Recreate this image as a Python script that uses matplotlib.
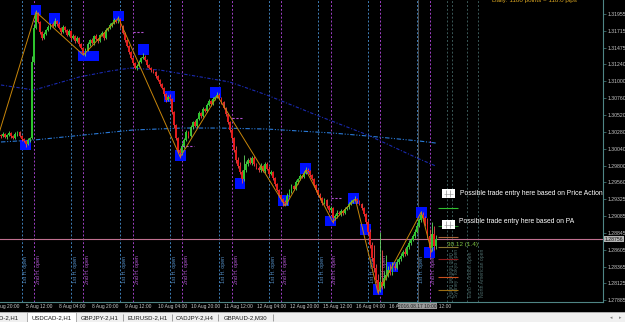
import matplotlib
matplotlib.use("Agg")
import matplotlib.pyplot as plt
from matplotlib.patches import Rectangle
from matplotlib.transforms import blended_transform_factory

plt.rcParams['font.family'] = ['Liberation Sans', 'DejaVu Sans']

# ---------------- data (USDCAD H1) ----------------
first_open = 1.30230
closes = [
    1.30219, 1.30247, 1.30205, 1.30233, 1.30261, 1.30219, 1.30190, 1.30247, 1.30276, 1.30219,
    1.30176, 1.30148, 1.30105, 1.30162, 1.30190, 1.31270, 1.31752, 1.31951, 1.31838, 1.31696,
    1.31610, 1.31667, 1.31724, 1.31767, 1.31809, 1.31781, 1.31852, 1.31809, 1.31752, 1.31696,
    1.31767, 1.31724, 1.31653, 1.31710, 1.31610, 1.31639, 1.31568, 1.31610, 1.31525, 1.31468,
    1.31397, 1.31440, 1.31525, 1.31582, 1.31539, 1.31639, 1.31596, 1.31568, 1.31653, 1.31681,
    1.31610, 1.31724, 1.31752, 1.31795, 1.31823, 1.31866, 1.31838, 1.31880, 1.31781, 1.31681,
    1.31582, 1.31497, 1.31412, 1.31326, 1.31255, 1.31184, 1.31213, 1.31270, 1.31326, 1.31341,
    1.31298, 1.31227, 1.31184, 1.31156, 1.31128, 1.31071, 1.31014, 1.30957, 1.30900, 1.30815,
    1.30730, 1.30773, 1.30744, 1.30560, 1.30375, 1.30190, 1.30020, 1.29977, 1.30077, 1.30162,
    1.30276, 1.30219, 1.30347, 1.30418, 1.30361, 1.30460, 1.30545, 1.30503, 1.30602, 1.30574,
    1.30659, 1.30716, 1.30673, 1.30744, 1.30773, 1.30801, 1.30758, 1.30702, 1.30616, 1.30531,
    1.30418, 1.30304, 1.30190, 1.30020, 1.29878, 1.29793, 1.29708, 1.29608, 1.29736, 1.29821,
    1.29878, 1.29835, 1.29906, 1.29821, 1.29764, 1.29736, 1.29793, 1.29722, 1.29821, 1.29750,
    1.29679, 1.29708, 1.29622, 1.29537, 1.29452, 1.29381, 1.29324, 1.29282, 1.29267, 1.29367,
    1.29438, 1.29509, 1.29466, 1.29566, 1.29608, 1.29651, 1.29637, 1.29693, 1.29736, 1.29722,
    1.29665, 1.29608, 1.29523, 1.29452, 1.29381, 1.29338, 1.29267, 1.29310, 1.29225, 1.29168,
    1.29196, 1.29054, 1.29083, 1.29125, 1.29111, 1.29154, 1.29125, 1.29182, 1.29211, 1.29253,
    1.29282, 1.29310, 1.29324, 1.29296, 1.29253, 1.29196, 1.29111, 1.28998, 1.28856, 1.28671,
    1.28486, 1.28344, 1.28174, 1.28032, 1.28146, 1.28089, 1.28202, 1.28245, 1.28316, 1.28273,
    1.28373, 1.28344, 1.28430, 1.28472, 1.28515, 1.28572, 1.28543, 1.28643, 1.28699, 1.28742,
    1.28799, 1.28856, 1.28941, 1.29026, 1.29097, 1.29054, 1.28969, 1.28799, 1.28628, 1.28827,
    1.28657, 1.28756,
]
# upper / lower wick length beyond the body, in pips
upper_pips = [
    2, 3, 1, 2, 3, 2, 1, 3, 2, 2,
    1, 2, 1, 3, 2, 8, 5, 6, 3, 2,
    2, 3, 2, 3, 2, 3, 4, 2, 3, 2,
    3, 2, 2, 3, 2, 3, 2, 3, 2, 2,
    1, 3, 3, 2, 3, 2, 3, 2, 2, 3,
    2, 3, 2, 3, 2, 3, 2, 4, 2, 2,
    2, 1, 2, 2, 1, 2, 3, 3, 2, 6,
    3, 2, 2, 1, 2, 1, 2, 2, 1, 2,
    2, 3, 4, 1, 2, 1, 2, 3, 4, 3,
    3, 2, 3, 2, 3, 2, 3, 2, 3, 2,
    3, 3, 2, 3, 2, 4, 3, 2, 2, 1,
    2, 2, 3, 2, 5, 4, 6, 3, 21, 4,
    3, 4, 3, 3, 2, 3, 4, 2, 3, 3,
    5, 3, 2, 2, 1, 2, 2, 1, 3, 4,
    3, 3, 2, 3, 2, 3, 2, 3, 4, 3,
    2, 2, 1, 2, 2, 3, 2, 3, 2, 2,
    3, 2, 3, 4, 3, 3, 2, 3, 2, 3,
    3, 2, 4, 2, 2, 2, 1, 2, 3, 4,
    5, 18, 6, 8, 71, 45, 10, 28, 6, 8,
    5, 4, 4, 3, 4, 3, 5, 3, 4, 3,
    3, 4, 3, 3, 6, 4, 3, 8, 10, 17,
    12, 6,
]
lower_pips = [
    3, 2, 2, 3, 2, 3, 2, 2, 3, 2,
    3, 2, 4, 2, 3, 2, 2, 2, 2, 3,
    3, 2, 2, 2, 3, 2, 2, 3, 2, 3,
    2, 3, 2, 2, 3, 2, 3, 2, 3, 2,
    3, 4, 2, 3, 2, 3, 2, 3, 2, 2,
    3, 2, 2, 2, 3, 2, 2, 2, 3, 2,
    3, 2, 3, 2, 3, 2, 3, 2, 2, 2,
    2, 3, 2, 3, 2, 3, 2, 3, 2, 3,
    3, 2, 3, 3, 4, 3, 4, 7, 3, 3,
    2, 3, 2, 3, 2, 3, 2, 3, 2, 2,
    2, 2, 3, 2, 2, 2, 2, 3, 2, 3,
    3, 3, 4, 3, 4, 3, 3, 6, 3, 3,
    3, 2, 3, 3, 2, 3, 3, 2, 3, 2,
    3, 2, 3, 3, 2, 3, 3, 6, 3, 3,
    2, 3, 2, 2, 3, 2, 2, 2, 2, 2,
    3, 2, 3, 3, 2, 3, 3, 2, 3, 3,
    3, 7, 3, 3, 2, 3, 3, 2, 2, 3,
    2, 2, 2, 3, 2, 3, 3, 3, 4, 4,
    4, 5, 4, 6, 3, 4, 3, 3, 3, 3,
    3, 3, 2, 3, 3, 2, 3, 2, 3, 3,
    2, 3, 2, 2, 3, 2, 3, 3, 13, 4,
    5, 4,
]
bid_price = 1.28756

# moving averages (sampled at bars)
ma_slow_idx = [0, 16, 38, 53, 63, 77, 97, 111, 129, 153, 178, 202, 211]
ma_slow = [1.30943, 1.30872, 1.31057, 1.31142, 1.31184, 1.31156, 1.31057, 1.30986,
           1.30801, 1.30517, 1.30233, 1.29906, 1.29793]
ma_fast_idx = [0, 16, 40, 64, 88, 106, 129, 161, 178, 203, 211]
ma_fast = [1.30134, 1.30162, 1.30233, 1.30304, 1.30332, 1.30332, 1.30318, 1.30261,
           1.30219, 1.30148, 1.30119]

# zigzag
zz_idx = [-3, 17, 40, 57, 87, 105, 138, 148, 161, 172, 183, 204, 209]
zz_price = [1.30063, 1.31980, 1.31369, 1.31894, 1.29921, 1.30790, 1.29225, 1.29736,
            1.28998, 1.29324, 1.27990, 1.29140, 1.28572]

# pivot markers (blue squares)
pivot_idx = [12, 17, 26, 40, 45, 57, 69, 82, 87, 104, 116, 137, 148, 160, 171, 177, 183, 190, 204, 208]
pivot_price = [1.30091, 1.32008, 1.31887, 1.31355, 1.31355, 1.31923, 1.31447, 1.30780,
               1.29942, 1.30836, 1.29544, 1.29303, 1.29764, 1.29012, 1.29331, 1.28898,
               1.28039, 1.28359, 1.29132, 1.28564]

# session / half-day vertical lines
first_half_idx = [10, 34, 58, 82, 106, 130, 154, 178, 202]
second_half_idx = [16, 40, 64, 88, 112, 136, 160, 184, 208]
second_half_open = [1.31696, 1.30077, 1.30474, 1.29338]
second_half_open_idx = [64, 88, 112, 160]
session_idx = [216.5, 219.0, 226.0, 231.5]
session_labels = ["Asian session open", "Sydney - Tokyo open", "Euro - London open", "North American open"]

# level lines on the right
level_prices = [1.29196, 1.28941, 1.28785, 1.28643, 1.28472, 1.28217, 1.28032]
level_colors = ['#2fbf2f', '#1f7f1f', '#a8683a', '#8a7430', '#8b1a1a', '#c8501e', '#9a6e14']

# axes labels
ytick_vals = [1.31955, 1.31715, 1.31475, 1.31240, 1.31000, 1.30760, 1.30520, 1.30280, 1.30040,
              1.29800, 1.29560, 1.29325, 1.29085, 1.28845, 1.28605, 1.28365, 1.28125, 1.27885]
date_idx = [-4, 12, 28, 44, 60, 76, 92, 108, 124, 140, 156, 172, 188, 204]
date_labels = ["4 Aug 20:00", "5 Aug 12:00", "8 Aug 04:00", "8 Aug 20:00", "9 Aug 12:00",
               "10 Aug 04:00", "10 Aug 20:00", "11 Aug 12:00", "12 Aug 04:00", "12 Aug 20:00",
               "15 Aug 12:00", "16 Aug 04:00", "16 Aug 20:00", "17 Aug 12:00"]
tabs = ["GBPUSD-2,H1", "USDCAD-2,H1", "GBPJPY-2,H1", "EURUSD-2,H1", "CADJPY-2,H4", "GBPAUD-2,M30"]

# ---------------- figure ----------------
W, H = 625, 322
fig = plt.figure(figsize=(W / 100, H / 100), dpi=100, facecolor='black')
ax = fig.add_axes([0, 20 / H, 603 / W, 302 / H])
ax.set_facecolor('black')
ax.set_xlim(-0.485, 292.2)
ax.set_ylim(1.27862, 1.32150)

axis_col = '#4f8585'
for s in ['top', 'left']:
    ax.spines[s].set_visible(False)
for s in ['right', 'bottom']:
    ax.spines[s].set_color(axis_col)
    ax.spines[s].set_linewidth(0.8)

bx = blended_transform_factory(ax.transData, ax.transAxes)
by = blended_transform_factory(ax.transAxes, ax.transData)

# vertical lines
for i in first_half_idx:
    ax.axvline(i, color='#3f7fb8', lw=0.7, ls=(0, (2, 2)), zorder=0.5)
    ax.text(i + 0.9, 0.063, "1st H. open", transform=bx, rotation=90, ha='left', va='bottom',
            fontsize=3.8, color='#5590c8', zorder=0.6)
for i in second_half_idx:
    ax.axvline(i, color='#a040c8', lw=0.7, ls=(0, (2, 2)), zorder=0.5)
    ax.text(i + 0.9, 0.06, "2nd H. open", transform=bx, rotation=90, ha='left', va='bottom',
            fontsize=3.8, color='#b058d0', zorder=0.6)
ax.axvline(202.6, color='#5a5a5a', lw=0.6, zorder=0.5)
for i, lab in zip(session_idx, session_labels):
    ax.axvline(i, color='#3a5858', lw=0.7, ls=(0, (2, 2)), zorder=0.5)
    ax.text(i + 0.8, 0.017, lab, transform=bx, rotation=90, ha='left', va='bottom',
            fontsize=3.7, color='#4a6868', zorder=0.6)

# bid line
ax.axhline(bid_price, color='#c07090', lw=0.8, zorder=1)

# moving averages
ax.plot(ma_slow_idx, ma_slow, color='#1a2ab0', lw=0.8, ls=(0, (3, 1.5, 1, 1.5)), zorder=1.2)
ax.plot(ma_fast_idx, ma_fast, color='#2a7ad8', lw=0.8, ls=(0, (4, 1.5, 1, 1.5, 1, 1.5)), zorder=1.2)

# pivot squares
ax.scatter(pivot_idx, pivot_price, marker='s', s=62, color='#0010ff', edgecolors='none', zorder=2)

# candles
opens = [first_open] + closes[:-1]
for i, (o, c, up, lo) in enumerate(zip(opens, closes, upper_pips, lower_pips)):
    top, bot = max(o, c), min(o, c)
    bull = c >= o
    wick_col = '#60d860' if bull else '#f05050'
    body_col = '#2ec42e' if bull else '#e41c1c'
    ax.vlines(i, bot - lo * 0.0001, top + up * 0.0001, color=wick_col, lw=0.6, zorder=3)
    ax.bar(i, max(top - bot, 0.00004), bottom=bot, width=0.9, color=body_col,
           edgecolor='none', zorder=3.1)

# zigzag
ax.plot(zz_idx, zz_price, color='#c8860a', lw=0.7, zorder=5)

# second-half open marks
for i, p in zip(second_half_open_idx, second_half_open):
    ax.hlines(p, i, i + 5.5, color='#b050d0', lw=0.8, ls=(0, (2, 1.5)), zorder=4)

# right-side level lines
ax.hlines(level_prices, 212, 222, colors=level_colors, lw=0.8, zorder=4)

# icons + annotations
for ptop in [1.29466, 1.29026]:
    ax.add_patch(Rectangle((214.1, ptop - 0.00128), 6.3, 0.00128, facecolor='white',
                           edgecolor='none', zorder=6))
    for xx in [216.0, 218.0]:
        ax.vlines(xx, ptop - 0.00110, ptop - 0.00018, color='#909090', lw=0.5, zorder=6.1)
    ax.hlines(ptop - 0.00064, 215.0, 219.4, color='#909090', lw=0.4, zorder=6.1)
ax.text(222.8, 1.29409, "Possible trade entry here based on Price Action", color='white',
        fontsize=4.85, va='center', ha='left', zorder=7)
ax.text(222.3, 1.29012, "Possible trade entry here based on PA", color='white',
        fontsize=4.85, va='center', ha='left', zorder=7)
ax.text(216.5, 1.28685, "30.12 (1.4)", color='#7cc040', fontsize=4.6, va='center', ha='left', zorder=7)

# price axis
ax.yaxis.tick_right()
ax.set_yticks(ytick_vals)
ax.set_yticklabels([f"{v:.5f}" for v in ytick_vals], fontsize=3.7, color='#c8c8c8')
ax.tick_params(axis='y', length=2, width=0.5, color=axis_col, pad=1)
ax.set_xticks([])
ax.text(1.0 + 2 / 603, bid_price, f"{bid_price:.5f}", transform=by, va='center', ha='left',
        fontsize=3.7, color='#101010', clip_on=False, zorder=8,
        bbox=dict(facecolor='#b4b4b4', edgecolor='none', pad=0.5))

# time axis labels
for i, lab in zip(date_idx, date_labels):
    ax.text(i + 0.3, -0.006, lab, transform=bx, va='top', ha='left', fontsize=3.55,
            color='#c8c8c8', clip_on=False)
ax.text(202, -0.006, "2016.08.17 10:00", transform=bx, va='top', ha='center', fontsize=3.55,
        color='#202020', clip_on=False, zorder=9,
        bbox=dict(facecolor='#9a9a9a', edgecolor='none', pad=0.3))

# top info text (cut off)
fig.text(492 / W, 1.0 - 0.4 / H, "Daily: 1180 points = 118.0 pips", color='#d9a521',
         fontsize=4.5, ha='left', va='center')

# tab bar
tab = fig.add_axes([0, 0, 1, 10 / H])
tab.set_xlim(0, W)
tab.set_ylim(0, 10)
tab.set_facecolor('#f0f0f0')
tab.set_xticks([])
tab.set_yticks([])
for s in tab.spines.values():
    s.set_visible(False)
tab.axhline(9.8, color='#a0a0a0', lw=0.6)
tab.add_patch(Rectangle((27, 0), 49, 10, facecolor='white', edgecolor='#a0a0a0', lw=0.6))
tab_x = [19, 51.5, 99.5, 147.5, 195, 246]
for k, (t, xx) in enumerate(zip(tabs, tab_x)):
    ha = 'right' if k == 0 else 'center'
    tab.text(xx, 4.6, t, fontsize=4.3, color='#1a1a1a', ha=ha, va='center')
for xx in [123, 172, 218, 273]:
    tab.vlines(xx, 1.5, 8.5, color='#909090', lw=0.6)
tab.text(611, 4.6, "\u25c2", fontsize=3.5, color='#808080', ha='center', va='center',
         family='DejaVu Sans')
tab.text(620, 4.6, "\u25b8", fontsize=3.5, color='#808080', ha='center', va='center',
         family='DejaVu Sans')

fig.savefig("out.png", dpi=100, facecolor='black')
